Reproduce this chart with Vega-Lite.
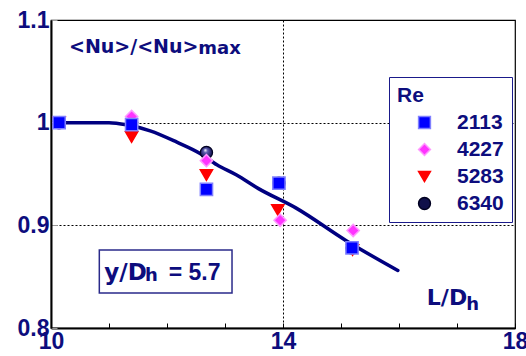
{
  "$schema": "https://vega.github.io/schema/vega-lite/v6.json",
  "width": 464,
  "height": 308,
  "autosize": {"type": "none"},
  "padding": {"left": 51, "top": 20, "right": 11, "bottom": 28},
  "background": "white",
  "config": {
    "view": {"stroke": "#000000", "strokeWidth": 1.2},
    "legend": {
      "orient": "none",
      "legendX": 338,
      "legendY": 57,
      "titleFont": "Liberation Sans",
      "titleFontSize": 21,
      "titleFontWeight": "bold",
      "titleColor": "#0d0d7d",
      "labelFont": "Liberation Sans",
      "labelFontSize": 21,
      "labelFontWeight": "bold",
      "labelColor": "#0d0d7d",
      "strokeColor": "#1a1a8a",
      "fillColor": "white",
      "padding": 8,
      "symbolOffset": 17,
      "labelOffset": 22,
      "rowPadding": 5,
      "symbolSize": 140,
      "symbolStrokeWidth": 1.5,
      "titlePadding": 6
    }
  },
  "datasets": {
    "points": [
      {"Re": "6340", "LD": 10.14, "Nu": 1.0},
      {"Re": "6340", "LD": 11.39, "Nu": 1.0},
      {"Re": "6340", "LD": 12.68, "Nu": 0.971},
      {"Re": "6340", "LD": 13.93, "Nu": 0.941},
      {"Re": "6340", "LD": 15.19, "Nu": 0.878},
      {"Re": "5283", "LD": 10.14, "Nu": 1.0},
      {"Re": "5283", "LD": 11.39, "Nu": 0.986},
      {"Re": "5283", "LD": 12.68, "Nu": 0.949},
      {"Re": "5283", "LD": 13.91, "Nu": 0.915},
      {"Re": "5283", "LD": 15.2, "Nu": 0.876},
      {"Re": "4227", "LD": 10.14, "Nu": 1.0},
      {"Re": "4227", "LD": 11.39, "Nu": 1.006},
      {"Re": "4227", "LD": 12.68, "Nu": 0.963},
      {"Re": "4227", "LD": 13.95, "Nu": 0.905},
      {"Re": "4227", "LD": 15.21, "Nu": 0.895},
      {"Re": "2113", "LD": 10.14, "Nu": 1.0},
      {"Re": "2113", "LD": 11.39, "Nu": 0.998},
      {"Re": "2113", "LD": 12.68, "Nu": 0.935},
      {"Re": "2113", "LD": 13.93, "Nu": 0.941},
      {"Re": "2113", "LD": 15.19, "Nu": 0.878}
    ],
    "fit": [
      {"LD": 10.14, "Nu": 1.0},
      {"LD": 11.0, "Nu": 1.0},
      {"LD": 11.3, "Nu": 0.998},
      {"LD": 11.71, "Nu": 0.992},
      {"LD": 12.17, "Nu": 0.981},
      {"LD": 12.57, "Nu": 0.97},
      {"LD": 12.86, "Nu": 0.959},
      {"LD": 13.2, "Nu": 0.949},
      {"LD": 13.57, "Nu": 0.936},
      {"LD": 14.22, "Nu": 0.917},
      {"LD": 15.09, "Nu": 0.885},
      {"LD": 15.98, "Nu": 0.856}
    ]
  },
  "layer": [
    {
      "data": {"values": [{}]},
      "mark": {"type": "rect", "fill": "white", "stroke": "#2a2a8a", "strokeWidth": 1.5},
      "encoding": {
        "x": {"datum": 10.833, "type": "quantitative", "scale": {"domain": [10, 18], "nice": false, "zero": false},
          "axis": {
            "values": [10, 11, 12, 13, 14, 15, 16, 17, 18],
            "format": "d",
            "labelExpr": "indexof([10,14,18], datum.value) >= 0 ? datum.label : ''",
            "title": null,
            "labelFont": "Liberation Sans",
            "labelFontSize": 23,
            "labelFontWeight": "bold",
            "labelColor": "#0d0d7d",
            "labelFlush": false,
            "labelPadding": 7,
            "tickSize": -5,
            "tickColor": "#000000",
            "tickWidth": 1,
            "domainColor": "#000000",
            "domainWidth": 2,
            "grid": true,
            "gridColor": "#000000",
            "gridDash": [2, 2],
            "gridWidth": 1,
            "gridOpacity": {"condition": {"test": "datum.value === 14", "value": 1}, "value": 0}
          }},
        "x2": {"datum": 13.121},
        "y": {"datum": 0.876, "type": "quantitative", "scale": {"domain": [0.8, 1.1], "nice": false, "zero": false},
          "axis": {
            "values": [0.8, 0.9, 1.0, 1.1],
            "format": ".2~f",
            "title": null,
            "labelFont": "Liberation Sans",
            "labelFontSize": 23,
            "labelFontWeight": "bold",
            "labelColor": "#0d0d7d",
            "labelFlush": false,
            "labelPadding": 8,
            "tickSize": -6,
            "tickColor": "#999999",
            "domainColor": "#000000",
            "domainWidth": 2,
            "grid": true,
            "gridColor": "#000000",
            "gridDash": [2, 2],
            "gridWidth": 1,
            "gridOpacity": {"condition": {"test": "datum.value > 0.85 && datum.value < 1.05", "value": 1}, "value": 0}
          }},
        "y2": {"datum": 0.834}
      }
    },
    {
      "data": {"values": [{}]},
      "mark": {"type": "text", "text": "<Nu>/<Nu>", "font": "DejaVu Sans", "fontWeight": "bold", "fontSize": 19, "align": "left", "baseline": "alphabetic", "color": "#0d0d7d"},
      "encoding": {"x": {"datum": 10.31}, "y": {"datum": 1.0675}}
    },
    {
      "data": {"values": [{}]},
      "mark": {"type": "text", "text": "max", "font": "DejaVu Sans", "fontWeight": "bold", "fontSize": 18, "align": "left", "baseline": "alphabetic", "color": "#0d0d7d"},
      "encoding": {"x": {"datum": 12.54}, "y": {"datum": 1.0665}}
    },
    {
      "data": {"values": [{}]},
      "mark": {"type": "text", "text": "y/D", "font": "DejaVu Sans", "fontWeight": "bold", "fontSize": 23, "align": "left", "baseline": "alphabetic", "color": "#0d0d7d"},
      "encoding": {"x": {"datum": 10.92}, "y": {"datum": 0.8467}}
    },
    {
      "data": {"values": [{}]},
      "mark": {"type": "text", "text": "h", "font": "DejaVu Sans", "fontWeight": "bold", "fontSize": 18, "align": "left", "baseline": "alphabetic", "color": "#0d0d7d"},
      "encoding": {"x": {"datum": 11.62}, "y": {"datum": 0.8455}}
    },
    {
      "data": {"values": [{}]},
      "mark": {"type": "text", "text": "= 5.7", "font": "Liberation Sans", "fontWeight": "bold", "fontSize": 23, "align": "left", "baseline": "alphabetic", "color": "#0d0d7d"},
      "encoding": {"x": {"datum": 12.03}, "y": {"datum": 0.8467}}
    },
    {
      "data": {"values": [{}]},
      "mark": {"type": "text", "text": "L/D", "font": "DejaVu Sans", "fontWeight": "bold", "fontSize": 22, "align": "left", "baseline": "alphabetic", "color": "#0d0d7d"},
      "encoding": {"x": {"datum": 16.48}, "y": {"datum": 0.8224}}
    },
    {
      "data": {"values": [{}]},
      "mark": {"type": "text", "text": "h", "font": "DejaVu Sans", "fontWeight": "bold", "fontSize": 18, "align": "left", "baseline": "alphabetic", "color": "#0d0d7d"},
      "encoding": {"x": {"datum": 17.16}, "y": {"datum": 0.8175}}
    },
    {
      "data": {"name": "fit"},
      "mark": {"type": "line", "color": "#000080", "strokeWidth": 3.5, "interpolate": "monotone", "strokeCap": "round"},
      "encoding": {
        "x": {"field": "LD", "type": "quantitative"},
        "y": {"field": "Nu", "type": "quantitative"}
      }
    },
    {
      "data": {"name": "points"},
      "transform": [{"filter": "datum.Re === '6340'"}],
      "mark": {
        "type": "point", "shape": "circle", "size": 150, "strokeWidth": 1.2, "stroke": "#000020", "opacity": 1,
        "fill": {"gradient": "radial", "x1": 0.4, "y1": 0.3, "r1": 0, "x2": 0.5, "y2": 0.5, "r2": 0.55,
          "stops": [{"offset": 0, "color": "#ffffff"}, {"offset": 0.3, "color": "#6060b0"}, {"offset": 1, "color": "#000040"}]},
        "fillOpacity": 1
      },
      "encoding": {
        "x": {"field": "LD", "type": "quantitative"},
        "y": {"field": "Nu", "type": "quantitative"}
      }
    },
    {
      "data": {"name": "points"},
      "transform": [{"filter": "datum.Re !== '6340'"}],
      "mark": {"type": "point", "filled": true, "size": 150, "strokeWidth": 1.5, "opacity": 1},
      "encoding": {
        "x": {"field": "LD", "type": "quantitative"},
        "y": {"field": "Nu", "type": "quantitative"},
        "shape": {"field": "Re", "type": "nominal", "title": "Re",
          "scale": {"domain": ["2113", "4227", "5283", "6340"], "range": ["square", "diamond", "triangle-down", "circle"]}},
        "fill": {"field": "Re", "type": "nominal", "title": "Re",
          "scale": {"domain": ["2113", "4227", "5283", "6340"], "range": ["#0000ff", "#ff33ff", "#ff0000", "#10104a"]}},
        "stroke": {"field": "Re", "type": "nominal", "title": "Re",
          "scale": {"domain": ["2113", "4227", "5283", "6340"], "range": ["#8080ff", "#ff99ff", "#ff0000", "#000020"]}}
      }
    }
  ]
}
